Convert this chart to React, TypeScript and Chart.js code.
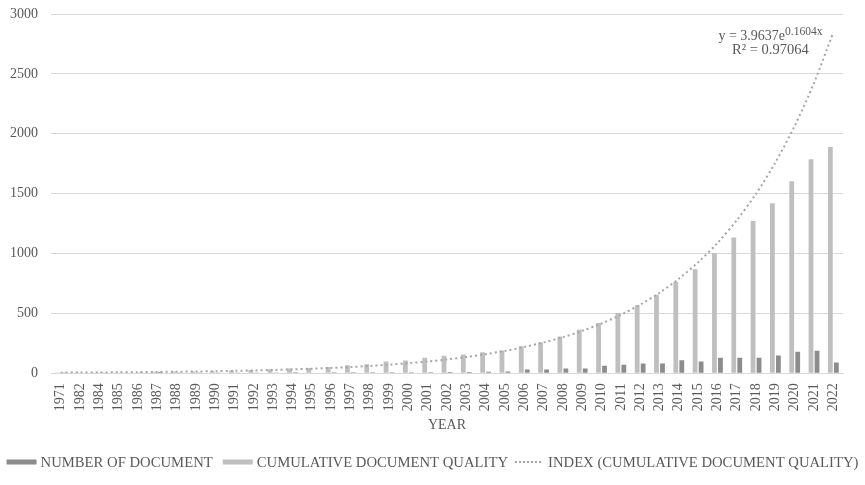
import React, { useEffect, useRef } from "react";
import { Chart, registerables } from "chart.js";

Chart.register(...registerables);

const years = ["1971","1982","1984","1985","1986","1987","1988","1989","1990","1991","1992","1993","1994","1995","1996","1997","1998","1999","2000","2001","2002","2003","2004","2005","2006","2007","2008","2009","2010","2011","2012","2013","2014","2015","2016","2017","2018","2019","2020","2021","2022"];

const numberOfDocument = [1,0,1,0,1,10,1,1,2,5,5,5,8,4,8,7,7,8,8,8,10,10,12,14,31,31,40,39,62,70,81,81,109,98,129,129,129,148,179,187,89];

const cumulativeQuality = [1,1,2,2,3,13,14,15,17,22,27,32,40,44,52,67,75,98,106,129,145,156,176,190,226,257,307,363,420,502,568,655,761,869,1003,1134,1271,1419,1603,1786,1889];

const indexTrend = [4.65,5.46,6.41,7.53,8.84,10.4,12.2,14.3,16.8,19.7,23.1,27.2,31.9,37.5,44.0,51.6,60.6,71.1,83.5,98.0,115,135,159,186,219,257,301,354,415,488,572,672,789,926,1087,1277,1499,1760,2066,2425,2847];

const yTicks = [0, 500, 1000, 1500, 2000, 2500, 3000];

const FONT = "'Liberation Serif', 'Times New Roman', serif";
const TEXT = "#595959";
const DARK = "#8c8c8c";
const LIGHT = "#bfbfbf";
const TREND = "#a6a6a6";

const equationPlugin = {
  id: "equation",
  afterDatasetsDraw(chart: any) {
    const ctx = chart.ctx;
    const x = chart.scales.x;
    const y = chart.scales.y;
    const cx = x.getPixelForValue(37) - 5;
    const ty = y.getPixelForValue(2784);
    ctx.save();
    ctx.fillStyle = TEXT;
    ctx.textBaseline = "alphabetic";
    ctx.font = `14px ${FONT}`;
    const main = "y = 3.9637e";
    const sup = "0.1604x";
    const mw = ctx.measureText(main).width;
    ctx.font = `11.5px ${FONT}`;
    const sw = ctx.measureText(sup).width;
    const left = cx - (mw + sw) / 2;
    ctx.font = `14px ${FONT}`;
    ctx.textAlign = "left";
    ctx.fillText(main, left, ty);
    ctx.font = `11.5px ${FONT}`;
    ctx.fillText(sup, left + mw, ty - 5);
    ctx.font = `14.5px ${FONT}`;
    ctx.textAlign = "center";
    ctx.fillText("R² = 0.97064", cx, ty + 14);
    ctx.restore();
  },
};

const legendPlugin = {
  id: "customLegend",
  afterDraw(chart: any) {
    const ctx = chart.ctx;
    const items = chart.data.datasets.map((ds: any) => ({
      text: ds.label as string,
      line: ds.type === "line",
      color: ds.type === "line" ? ds.borderColor : ds.backgroundColor,
    }));
    ctx.save();
    ctx.font = `14.7px ${FONT}`;
    const boxW = 30;
    const lineW = 26;
    const widths = items.map((it: any) => ctx.measureText(it.text).width);
    let total = 0;
    items.forEach((it: any, i: number) => {
      total += (it.line ? lineW + 7 : boxW + 4) + widths[i];
      if (i < items.length - 1) total += items[i + 1].line ? 7 : 10;
    });
    let px = (chart.width - total) / 2;
    const cy = chart.height - 23;
    items.forEach((it: any, i: number) => {
      if (it.line) {
        ctx.strokeStyle = it.color;
        ctx.lineWidth = 2;
        ctx.setLineDash([2, 2]);
        ctx.beginPath();
        ctx.moveTo(px, cy);
        ctx.lineTo(px + lineW, cy);
        ctx.stroke();
        ctx.setLineDash([]);
        px += lineW + 7;
      } else {
        ctx.fillStyle = it.color;
        ctx.fillRect(px, cy - 2.5, boxW, 5);
        px += boxW + 4;
      }
      ctx.fillStyle = TEXT;
      ctx.textAlign = "left";
      ctx.textBaseline = "middle";
      ctx.fillText(it.text, px, cy + 1);
      px += widths[i];
      px += items[i + 1] && items[i + 1].line ? 7 : 10;
    });
    ctx.restore();
  },
};

export default function App() {
  const ref = useRef<HTMLCanvasElement>(null);
  useEffect(() => {
    document.body.style.margin = "0";
    const chart = new Chart(ref.current!, {
      type: "bar",
      data: {
        labels: years,
        datasets: [
          {
            type: "bar",
            label: "NUMBER OF DOCUMENT",
            data: numberOfDocument,
            backgroundColor: DARK,
            borderWidth: 0,
            order: 2,
          },
          {
            type: "bar",
            label: "CUMULATIVE DOCUMENT QUALITY",
            data: cumulativeQuality,
            backgroundColor: LIGHT,
            borderWidth: 0,
            order: 1,
          },
          {
            type: "line",
            label: "INDEX (CUMULATIVE DOCUMENT QUALITY)",
            data: indexTrend,
            borderColor: TREND,
            backgroundColor: TREND,
            borderWidth: 2,
            borderDash: [2, 3],
            pointRadius: 0,
            tension: 0.3,
            fill: false,
            order: 0,
          } as any,
        ],
      },
      options: {
        animation: false,
        responsive: false,
        maintainAspectRatio: false,
        layout: { autoPadding: false, padding: { top: 14, right: 22, left: -3, bottom: 51 } } as any,
        datasets: {
          bar: { categoryPercentage: 0.62, barPercentage: 0.8 },
        } as any,
        plugins: {
          tooltip: { enabled: false },
          legend: { display: false },
        },
        scales: {
          x: {
            afterFit(scale: any) {
              scale.paddingTop = 0;
            },
            grid: { display: false },
            border: { display: true, color: "#d9d9d9", width: 1 },
            ticks: {
              autoSkip: false,
              maxRotation: 90,
              minRotation: 90,
              color: TEXT,
              font: { family: FONT, size: 14 },
              padding: 2,
            },
            title: {
              display: true,
              text: "YEAR",
              color: TEXT,
              font: { family: FONT, size: 14 },
              padding: { top: 4, bottom: 0 },
            },
          },
          y: {
            min: 0,
            max: 3000,
            afterBuildTicks(axis: any) {
              axis.ticks = yTicks.map((v) => ({ value: v }));
            },
            afterFit(scale: any) {
              scale.paddingTop = 0;
              scale.paddingBottom = 0;
            },
            grid: { color: "#d9d9d9", drawTicks: false },
            border: { display: false },
            ticks: {
              color: TEXT,
              font: { family: FONT, size: 14 },
              padding: 13,
              callback: (v: any) => String(v),
            },
          },
        },
      },
      plugins: [equationPlugin, legendPlugin],
    });
    return () => chart.destroy();
  }, []);
  return <canvas ref={ref} width={865} height={485} style={{ display: "block" }} />;
}
